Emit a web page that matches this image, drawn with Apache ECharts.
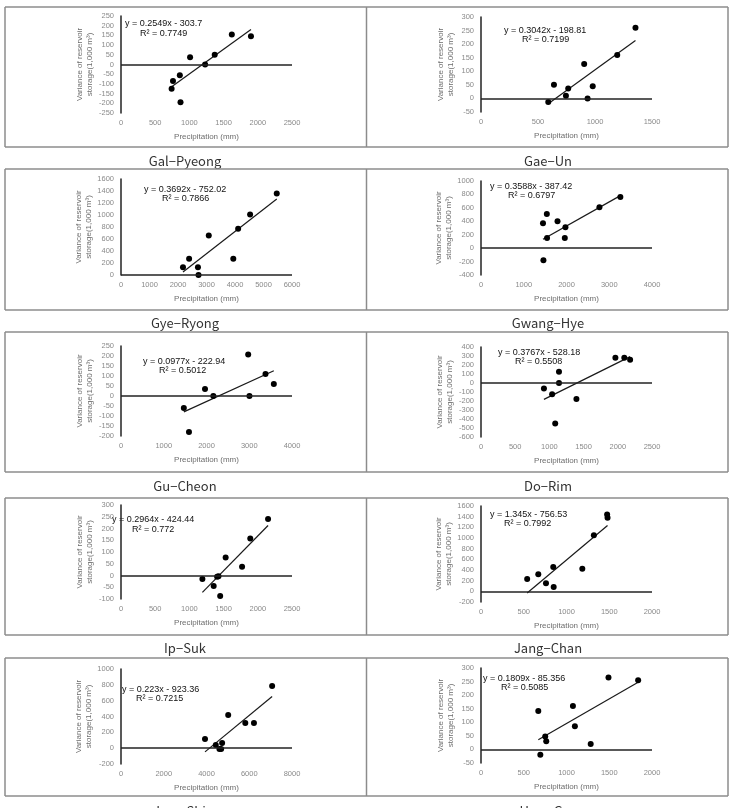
<!DOCTYPE html>
<html>
<head>
<meta charset="utf-8">
<script src="https://cdn.jsdelivr.net/npm/echarts@6.0.0/dist/echarts.min.js"></script>
<style>
  html, body { margin: 0; padding: 0; background: #fff; }
  #chart { width: 730px; height: 808px; }
</style>
</head>
<body>
<div id="chart"></div>
<script>
// reservoir names (one per panel, read left->right, top->bottom)
var titles = ['Gal\u2212Pyeong', 'Gae\u2212Un', 'Gye\u2212Ryong', 'Gwang\u2212Hye', 'Gu\u2212Cheon',
              'Do\u2212Rim', 'Ip\u2212Suk', 'Jang\u2212Chan', 'Iam\u2212Shin', 'Hwa\u2212Gye'];

// precipitation (mm) and variance of storage (1,000 m3)
var galPyeongP = [740, 760, 860, 870, 1010, 1230, 1370, 1620, 1900];
var galPyeongV = [-125, -85, -55, -195, 38, 0, 50, 155, 145];
var gaeUnP = [590, 640, 745, 765, 905, 935, 980, 1195, 1355];
var gaeUnV = [-13, 50, 10, 37, 127, 0, 45, 160, 260];
var gyeRyongP = [2175, 2390, 2700, 2720, 3080, 3940, 4110, 4530, 5465];
var gyeRyongV = [130, 270, 130, 0, 660, 270, 770, 1010, 1360];
var gwangHyeP = [1460, 1450, 1540, 1545, 1790, 1975, 1960, 2770, 3260];
var gwangHyeV = [-180, 370, 510, 150, 400, 310, 150, 610, 760];
var guCheonP = [1470, 1590, 1965, 2160, 2975, 3005, 3380, 3575];
var guCheonV = [-60, -180, 35, 0, 207, 0, 110, 60];
var doRimP = [920, 1040, 1140, 1140, 1085, 1395, 1965, 2095, 2180];
var doRimV = [-60, -125, 125, 0, -450, -178, 280, 280, 257];
var ipSukP = [1190, 1355, 1405, 1425, 1450, 1530, 1770, 1890, 2150];
var ipSukV = [-15, -45, -5, -3, -87, 77, 37, 157, 240];
var jangChanP = [540, 670, 760, 845, 850, 1185, 1320, 1475, 1480];
var jangChanV = [230, 320, 150, 455, 80, 425, 1050, 1440, 1380];
var iamShinP = [3930, 4435, 4605, 4685, 4730, 5015, 5815, 6220, 7070];
var iamShinV = [115, 40, -10, -10, 65, 420, 318, 318, 785];
var hwaGyeP = [670, 694, 751, 763, 1075, 1098, 1283, 1491, 1838];
var hwaGyeV = [142, -20, 48, 30, 160, 85, 20, 265, 255];

// trend line equations as printed
var slopes = [0.2549, 0.3042, 0.3692, 0.3588, 0.0977, 0.3767, 0.2964, 1.345, 0.223, 0.1809];
var intercepts = [-303.7, -198.81, -752.02, -387.42, -222.94, -528.18, -424.44, -756.53, -923.36, -85.356];
var eqText = ['y = 0.2549x - 303.7', 'y = 0.3042x - 198.81', 'y = 0.3692x - 752.02', 'y = 0.3588x - 387.42',
              'y = 0.0977x - 222.94', 'y = 0.3767x - 528.18', 'y = 0.2964x - 424.44', 'y = 1.345x - 756.53',
              'y = 0.223x - 923.36', 'y = 0.1809x - 85.356'];
var r2Text = ['R\u00b2 = 0.7749', 'R\u00b2 = 0.7199', 'R\u00b2 = 0.7866', 'R\u00b2 = 0.6797', 'R\u00b2 = 0.5012',
              'R\u00b2 = 0.5508', 'R\u00b2 = 0.772', 'R\u00b2 = 0.7992', 'R\u00b2 = 0.7215', 'R\u00b2 = 0.5085'];

// axis ticks
var xMax = [2500, 1500, 6000, 4000, 4000, 2500, 2500, 2000, 8000, 2000];
var xStep = [500, 500, 1000, 1000, 1000, 500, 500, 500, 2000, 500];
var yMin = [-250, -50, 0, -400, -200, -600, -100, -200, -200, -50];
var yMax = [250, 300, 1600, 1000, 250, 400, 300, 1600, 1000, 300];
var yStep = [50, 50, 200, 200, 50, 100, 50, 200, 200, 50];

var pList = [galPyeongP, gaeUnP, gyeRyongP, gwangHyeP, guCheonP, doRimP, ipSukP, jangChanP, iamShinP, hwaGyeP];
var vList = [galPyeongV, gaeUnV, gyeRyongV, gwangHyeV, guCheonV, doRimV, ipSukV, jangChanV, iamShinV, hwaGyeV];

// layout
var colLeft = [121, 481];
var plotW = 171;
var plotTop = [16, 17, 179, 181, 346, 347, 505, 506, 669, 668];
var plotBot = [113, 112, 275, 275, 436, 437, 599, 602, 764, 763];
var eqPos = [[125, 24, 140, 34], [504, 31, 522, 40], [144, 190, 162, 199], [490, 187, 508, 196],
             [143, 362, 159, 371], [498, 353, 515, 362], [112, 520, 132, 530], [490, 515, 504, 524],
             [122, 690, 136, 699], [483, 679, 501, 688]];
var titleX = [185, 548];
var titleY = [161, 323, 486, 648, 811];
var hLines = [7, 147, 169, 310, 332, 472, 498, 635, 658, 796];

var grids = [], xAxes = [], yAxes = [], series = [], graphics = [];
var labelFont = '"Liberation Sans", Arial, sans-serif';
var plain = function (v) { return String(v); };

for (var i = 0; i < 10; i++) {
  var col = i % 2;
  grids.push({
    left: colLeft[col], top: plotTop[i], width: plotW, height: plotBot[i] - plotTop[i],
    containLabel: false, outerBoundsMode: 'none'
  });
  xAxes.push({
    type: 'value', gridIndex: i, min: 0, max: xMax[i], interval: xStep[i],
    axisLine: { show: false }, axisTick: { show: false }, splitLine: { show: false },
    axisLabel: { color: '#8a8a8a', fontSize: 7.5, fontFamily: labelFont, margin: 6, formatter: plain },
    name: 'Precipitation (mm)', nameLocation: 'middle', nameGap: 20,
    nameTextStyle: { color: '#6e6e6e', fontSize: 8, fontFamily: labelFont }
  });
  yAxes.push({
    type: 'value', gridIndex: i, min: yMin[i], max: yMax[i], interval: yStep[i],
    axisLine: { show: true, onZero: false, lineStyle: { color: '#222', width: 1.5 } },
    axisTick: { show: false }, splitLine: { show: false },
    axisLabel: { color: '#8a8a8a', fontSize: 7.5, fontFamily: labelFont, margin: 7, formatter: plain },
    name: 'Variance of reservoir\nstorage(1,000 m\u00b3)', nameLocation: 'middle', nameGap: 25,
    nameRotate: 90,
    nameTextStyle: { color: '#6e6e6e', fontSize: 8, lineHeight: 10, fontFamily: labelFont }
  });

  var pts = pList[i].map(function (p, k) { return [p, vList[i][k]]; });
  var lo = Math.min.apply(null, pList[i]);
  var hi = Math.max.apply(null, pList[i]);

  series.push({
    type: 'line', xAxisIndex: i, yAxisIndex: i, showSymbol: false, silent: true, z: 3,
    data: [[lo, slopes[i] * lo + intercepts[i]], [hi, slopes[i] * hi + intercepts[i]]],
    lineStyle: { color: '#1a1a1a', width: 1.2 }
  });
  series.push({
    type: 'scatter', xAxisIndex: i, yAxisIndex: i, symbol: 'circle', symbolSize: 6, z: 4,
    itemStyle: { color: '#000', opacity: 1 },
    data: pts,
    markLine: {
      silent: true, symbol: ['none', 'none'], label: { show: false },
      lineStyle: { color: '#222', width: 1.5, type: 'solid' },
      data: [{ yAxis: 0 }]
    }
  });

  graphics.push({ type: 'text', x: eqPos[i][0], y: eqPos[i][1], silent: true,
    style: { text: eqText[i], fontSize: 9, fontFamily: labelFont, fill: '#111', verticalAlign: 'middle' } });
  graphics.push({ type: 'text', x: eqPos[i][2], y: eqPos[i][3], silent: true,
    style: { text: r2Text[i], fontSize: 9, fontFamily: labelFont, fill: '#111', verticalAlign: 'middle' } });
  graphics.push({ type: 'text', x: titleX[col], y: titleY[Math.floor(i / 2)], silent: true,
    style: { text: titles[i], fontSize: 13, fontFamily: '"Noto Sans CJK KR", "Noto Sans", sans-serif',
             fill: '#333', align: 'center', verticalAlign: 'middle' } });
}

// table rules
hLines.forEach(function (y) {
  graphics.push({ type: 'line', silent: true, shape: { x1: 5, y1: y, x2: 728, y2: y },
    style: { stroke: '#8c8c8c', lineWidth: 1.5 } });
});
for (var r = 0; r < 5; r++) {
  [5, 366.5, 728].forEach(function (x) {
    graphics.push({ type: 'line', silent: true,
      shape: { x1: x, y1: hLines[r * 2], x2: x, y2: hLines[r * 2 + 1] },
      style: { stroke: '#8c8c8c', lineWidth: 1.5 } });
  });
}

var chart = echarts.init(document.getElementById('chart'), null, { renderer: 'canvas', width: 730, height: 808 });
chart.setOption({
  animation: false,
  backgroundColor: '#fff',
  grid: grids,
  xAxis: xAxes,
  yAxis: yAxes,
  series: series,
  graphic: { elements: graphics }
});
</script>
</body>
</html>
